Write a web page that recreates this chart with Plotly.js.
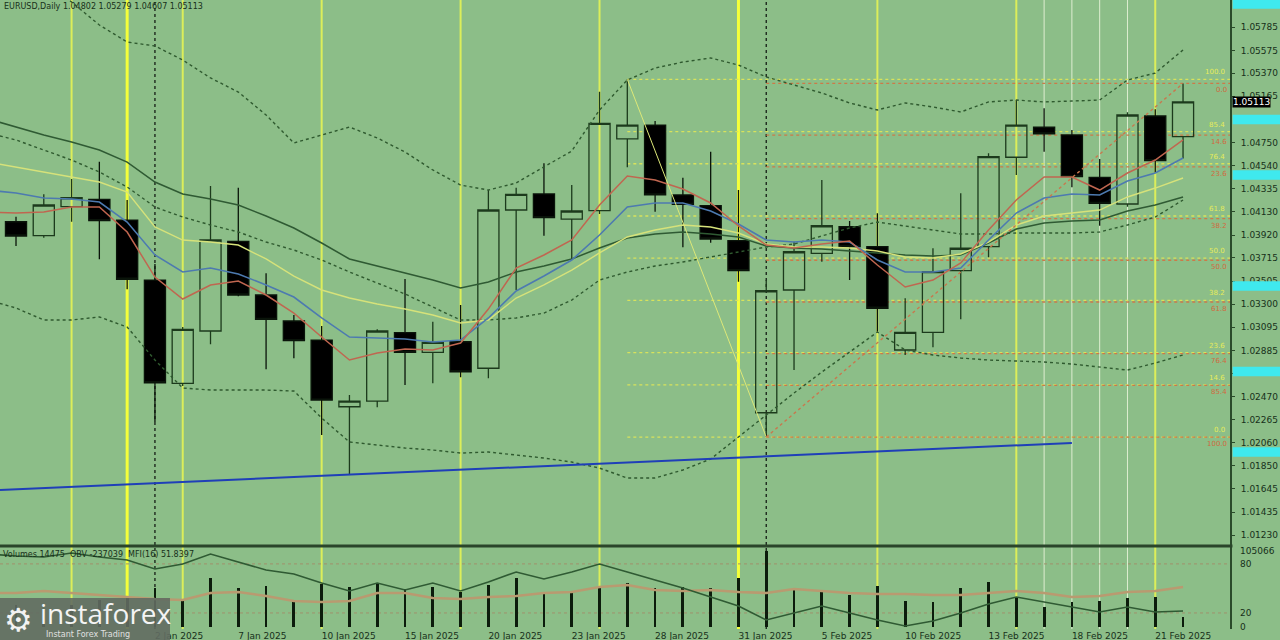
<!DOCTYPE html>
<html><head><meta charset="utf-8">
<script src="https://cdn.plot.ly/plotly-3.0.1.min.js"></script>
<style>html,body{margin:0;padding:0;background:#8cbe88;}#chart{width:1280px;height:640px;}</style>
</head><body><div id="chart"></div>
<script>
// first entry (23 Dec 2024) lies just left of the visible window: only its indicator values show at the edge
const dates = ["23 Dec 2024","24 Dec 2024","26 Dec 2024","27 Dec 2024","30 Dec 2024","31 Dec 2024","2 Jan 2025","3 Jan 2025","6 Jan 2025","7 Jan 2025","8 Jan 2025","9 Jan 2025","10 Jan 2025","13 Jan 2025","14 Jan 2025","15 Jan 2025","16 Jan 2025","17 Jan 2025","20 Jan 2025","21 Jan 2025","22 Jan 2025","23 Jan 2025","24 Jan 2025","27 Jan 2025","28 Jan 2025","29 Jan 2025","30 Jan 2025","31 Jan 2025","3 Feb 2025","4 Feb 2025","5 Feb 2025","6 Feb 2025","7 Feb 2025","10 Feb 2025","11 Feb 2025","12 Feb 2025","13 Feb 2025","14 Feb 2025","17 Feb 2025","18 Feb 2025","19 Feb 2025","20 Feb 2025","21 Feb 2025","24 Feb 2025"];
const open  = [null,1.04039,1.03914,1.04174,1.04240,1.04054,1.03516,1.02590,1.03059,1.03863,1.03382,1.03149,1.02978,1.02380,1.02431,1.03044,1.02868,1.02963,1.02725,1.04144,1.04288,1.04063,1.04138,1.04781,1.04906,1.04279,1.04183,1.03869,1.02326,1.03427,1.03756,1.03994,1.03815,1.02889,1.03047,1.03600,1.03815,1.04617,1.04886,1.04817,1.04437,1.04198,1.04987,1.04802];
const high  = [null,1.04084,1.04285,1.04422,1.04577,1.04234,1.03660,1.03095,1.04359,1.04344,1.03576,1.03203,1.03104,1.02485,1.03074,1.03525,1.03142,1.03292,1.04323,1.04344,1.04563,1.04368,1.05205,1.05316,1.04942,1.04434,1.04667,1.04323,1.03516,1.03860,1.04413,1.04045,1.04114,1.03352,1.03801,1.04294,1.04652,1.05130,1.05056,1.04861,1.04601,1.05020,1.05047,1.05279];
const low   = [null,1.03821,1.03896,1.04039,1.03702,1.03433,1.02243,1.02566,1.02940,1.03370,1.02716,1.02814,1.02127,1.01768,1.02375,1.02575,1.02590,1.02644,1.02635,1.03427,1.03914,1.03696,1.04108,1.04527,1.04129,1.03810,1.03850,1.03501,1.02108,1.02709,1.03680,1.03516,1.03053,1.02844,1.02913,1.03164,1.03720,1.04458,1.04667,1.04348,1.04003,1.04174,1.04479,1.04607];
const close = [null,1.03911,1.04189,1.04254,1.04048,1.03523,1.02595,1.03074,1.03875,1.03382,1.03164,1.02972,1.02440,1.02431,1.03059,1.02868,1.02958,1.02694,1.04144,1.04285,1.04075,1.04135,1.04921,1.04906,1.04279,1.04195,1.03884,1.03600,1.03420,1.03770,1.04003,1.03815,1.03263,1.03047,1.03591,1.03801,1.04622,1.04906,1.04826,1.04443,1.04204,1.04996,1.04586,1.05113];

const maRed    = [1.04126,1.04117,1.04126,1.04171,1.04171,1.03947,1.03543,1.03346,1.03472,1.03507,1.03382,1.03220,1.03005,1.02799,1.02862,1.02898,1.02889,1.02951,1.03256,1.03624,1.03741,1.03875,1.04189,1.04449,1.04413,1.04332,1.04207,1.04001,1.03830,1.03803,1.03839,1.03866,1.03651,1.03454,1.03516,1.03669,1.03965,1.04234,1.04440,1.04440,1.04323,1.04476,1.04592,1.04772];
const maBlue   = [1.04323,1.04296,1.04252,1.04243,1.04216,1.04036,1.03741,1.03588,1.03624,1.03570,1.03472,1.03364,1.03176,1.03005,1.02996,1.02987,1.02960,1.02978,1.03176,1.03418,1.03552,1.03696,1.03920,1.04171,1.04207,1.04207,1.04135,1.04018,1.03875,1.03857,1.03875,1.03857,1.03696,1.03588,1.03588,1.03624,1.03875,1.04117,1.04252,1.04288,1.04279,1.04404,1.04476,1.04610];
const maYellow = [1.04574,1.04530,1.04485,1.04440,1.04395,1.04305,1.03992,1.03875,1.03857,1.03830,1.03705,1.03552,1.03427,1.03355,1.03301,1.03256,1.03203,1.03131,1.03158,1.03355,1.03472,1.03606,1.03759,1.03902,1.03965,1.04010,1.03992,1.03938,1.03839,1.03812,1.03812,1.03803,1.03776,1.03723,1.03714,1.03750,1.03857,1.04010,1.04090,1.04117,1.04144,1.04261,1.04341,1.04431];
const maGreen  = [1.04960,1.04888,1.04817,1.04754,1.04682,1.04574,1.04395,1.04288,1.04243,1.04189,1.04090,1.03983,1.03848,1.03705,1.03642,1.03579,1.03516,1.03445,1.03498,1.03588,1.03642,1.03705,1.03803,1.03893,1.03929,1.03947,1.03929,1.03902,1.03821,1.03803,1.03794,1.03776,1.03759,1.03741,1.03732,1.03741,1.03848,1.03974,1.04027,1.04045,1.04054,1.04135,1.04189,1.04261];
const bandUpper = [1.06565,1.06386,1.06206,1.06009,1.05803,1.05650,1.05615,1.05489,1.05328,1.05202,1.04996,1.04745,1.04817,1.04888,1.04790,1.04664,1.04503,1.04368,1.04323,1.04386,1.04530,1.04673,1.05041,1.05310,1.05417,1.05471,1.05507,1.05444,1.05337,1.05265,1.05193,1.05104,1.05041,1.05104,1.05068,1.05023,1.05113,1.05130,1.05113,1.05121,1.05130,1.05310,1.05372,1.05579];
const bandInner = [1.04834,1.04772,1.04682,1.04592,1.04485,1.04350,1.04171,1.04081,1.04010,1.03947,1.03857,1.03785,1.03696,1.03588,1.03489,1.03391,1.03274,1.03158,1.03158,1.03176,1.03220,1.03337,1.03516,1.03588,1.03642,1.03678,1.03723,1.03767,1.03812,1.03839,1.03911,1.03983,1.04036,1.04001,1.03965,1.03929,1.03929,1.03938,1.03938,1.03938,1.03947,1.04010,1.04081,1.04234];
const bandLower = [1.03337,1.03265,1.03158,1.03158,1.03185,1.03095,1.02799,1.02548,1.02530,1.02530,1.02530,1.02521,1.02279,1.02064,1.02037,1.02010,1.01992,1.01965,1.01974,1.01947,1.01920,1.01884,1.01830,1.01741,1.01741,1.01813,1.01911,1.02109,1.02306,1.02503,1.02691,1.02871,1.03050,1.02889,1.02844,1.02817,1.02799,1.02790,1.02781,1.02763,1.02736,1.02709,1.02772,1.02844];

const volume = [null,30400,23500,30400,37300,40100,53900,37300,67700,53900,56700,35900,59400,55300,60800,52500,55300,48400,58100,67700,48400,48400,56700,60800,53900,55300,53900,67700,105066,53900,48400,44200,56700,35900,34600,53900,62200,41500,27600,34600,35900,40100,41500,14475];
const obv = [193300,178200,170700,200900,170700,148000,80100,117800,193300,132900,72500,42300,-25600,-86000,-25600,-78500,-25600,-86000,-18100,57400,4600,57400,117800,57400,-3000,-63400,-131300,-199300,-305000,-252100,-199300,-252100,-305000,-350300,-312500,-252100,-184200,-131300,-169100,-206800,-244600,-206800,-244600,-237039];
const mfi = [44.4,44.4,46.9,44.4,42.0,39.5,37.1,35.9,44.4,45.7,40.8,34.6,33.4,34.6,44.4,44.4,38.3,37.1,39.5,40.8,44.4,45.7,51.8,54.2,48.1,46.9,48.1,45.7,44.4,49.3,46.9,44.4,43.2,43.2,42.0,42.0,44.4,46.9,44.4,39.5,40.8,45.7,46.9,51.8397];

const tickLabels = ["2 Jan 2025","7 Jan 2025","10 Jan 2025","15 Jan 2025","20 Jan 2025","23 Jan 2025","28 Jan 2025","31 Jan 2025","5 Feb 2025","10 Feb 2025","13 Feb 2025","18 Feb 2025","21 Feb 2025"];
const priceTicks = ["1.05785","1.05575","1.05370","1.05165","1.04750","1.04540","1.04335","1.04130","1.03920","1.03715","1.03505","1.03300","1.03095","1.02885","1.02680","1.02470","1.02265","1.02060","1.01850","1.01645","1.01435","1.01230"];
const fridayLines = ["27 Dec 2024","3 Jan 2025","10 Jan 2025","17 Jan 2025","24 Jan 2025","7 Feb 2025","14 Feb 2025","21 Feb 2025"];
const monthEndLines = ["31 Dec 2024","31 Jan 2025"];
const weekDayLines = ["17 Feb 2025","18 Feb 2025","19 Feb 2025","20 Feb 2025"];
const monthStartLines = ["2 Jan 2025","3 Feb 2025"];
const fibRatios = [0,0.146,0.236,0.382,0.5,0.618,0.764,0.854,1];
const fibYellowFrom = "27 Jan 2025", fibYellowTo = "3 Feb 2025";
const fibRedFrom = "3 Feb 2025", fibRedTo = "24 Feb 2025";
const trendFrom = "24 Dec 2024", trendFromValue = 1.01640;
const trendTo = "18 Feb 2025", trendToValue = 1.02055;
const levelMarks = [1.05991,1.04956,1.04458,1.03463,1.02696,1.01974];
const volMax = 105066;
const mfiLevels = [20,80];
const firstVisible = "24 Dec 2024";

// ---------- build ----------
const BG = '#8cbe88', INK = '#17301a', DARK = '#2a4a2a';
const idx = dates.map((_, i) => i);
const xi = d => dates.indexOf(d);
const XR = [xi(firstVisible) - 0.576, xi(firstVisible) + 43.69];
const last = dates.length - 1;

const traces = [];
const line = (y, color, width, dash) => ({type:'scatter', mode:'lines', x:idx, y:y, xaxis:'x', yaxis:'y', hoverinfo:'skip',
  line:{color:color, width:width, dash:dash||'solid'}});

traces.push(line(bandUpper, '#2f5a2f', 1.4, 'dot'));
traces.push(line(bandInner, '#2f5a2f', 1.4, 'dot'));
traces.push(line(bandLower, '#2f5a2f', 1.4, 'dot'));
traces.push(line(maGreen, '#2f5a33', 1.5));
traces.push(line(maYellow, '#d6e27a', 1.4));
traces.push(line(maBlue, '#4d7ab0', 1.6));
traces.push(line(maRed, '#c06650', 1.5));

// trendline
const slope = (trendToValue - trendFromValue) / (xi(trendTo) - xi(trendFrom));
traces.push({type:'scatter', mode:'lines', x:[XR[0], xi(trendTo)],
  y:[trendFromValue + slope*(XR[0]-xi(trendFrom)), trendToValue], line:{color:'#1f3fb8', width:2}, hoverinfo:'skip'});
// fib diagonals
traces.push({type:'scatter', mode:'lines', x:[xi(fibYellowFrom), xi(fibYellowTo)],
  y:[high[xi(fibYellowFrom)], low[xi(fibYellowTo)]], line:{color:'#dde878', width:1}, hoverinfo:'skip'});
traces.push({type:'scatter', mode:'lines', x:[xi(fibRedFrom), xi(fibRedTo)],
  y:[low[xi(fibRedFrom)], high[xi(fibRedTo)]], line:{color:'#c8784e', width:1.4, dash:'dot'}, hoverinfo:'skip'});

traces.push({type:'candlestick', x:idx, open:open, high:high, low:low, close:close, xaxis:'x', yaxis:'y', hoverinfo:'skip',
  whiskerwidth:0,
  increasing:{line:{color:'#1c3a1c', width:1.3}, fillcolor:'rgba(0,0,0,0)'},
  decreasing:{line:{color:'#0a140a', width:1.3}, fillcolor:'#000000'}});

// lower panel
traces.push({type:'bar', x:idx, y:volume, xaxis:'x', yaxis:'y2', width:0.1, marker:{color:'#0c1c0c', line:{width:0}}, hoverinfo:'skip'});
traces.push({type:'scatter', mode:'lines', x:idx, y:mfi, xaxis:'x', yaxis:'y3', line:{color:'#b99a70', width:2.6}, hoverinfo:'skip'});
traces.push({type:'scatter', mode:'lines', x:idx, y:obv, xaxis:'x', yaxis:'y4', line:{color:'#2f5a33', width:1.6}, hoverinfo:'skip'});

const shapes = [];
const vline = (d, color, width, dash) => shapes.push({type:'line', xref:'x', yref:'paper', x0:xi(d), x1:xi(d), y0:0, y1:1,
  line:{color:color, width:width, dash:dash||'solid'}, layer:'below'});
fridayLines.filter(d => monthEndLines.indexOf(d) < 0).forEach(d => vline(d, '#dcee5a', 2));
monthEndLines.forEach(d => vline(d, '#f4ff3a', 3));
weekDayLines.forEach(d => vline(d, 'rgba(236,246,222,0.85)', 1));
monthStartLines.forEach(d => vline(d, '#151d15', 1.3, 'dot'));

// fib levels
const fibY0 = high[xi(fibYellowFrom)], fibY1 = low[xi(fibYellowTo)];
const fibR0 = low[xi(fibRedFrom)], fibR1 = high[xi(fibRedTo)];
const annotations = [];
fibRatios.forEach(r => {
  const py = fibY1 + (fibY0 - fibY1) * r;   // 100 at the high, 0 at the low
  shapes.push({type:'line', xref:'x', yref:'y', x0:xi(fibYellowFrom), x1:XR[1], y0:py, y1:py,
    line:{color:'#d8e25c', width:1.3, dash:'dot'}, layer:'below'});
  const pr = fibR1 + (fibR0 - fibR1) * r;   // 100 at the low, 0 at the high
  shapes.push({type:'line', xref:'x', yref:'y', x0:xi(fibRedFrom), x1:XR[1], y0:pr, y1:pr,
    line:{color:'#cc7a48', width:1.3, dash:'dot'}, layer:'below'});
  annotations.push({xref:'paper', yref:'y', x:1, y:py, xanchor:'right', yanchor:'bottom', xshift:-3, yshift:1, showarrow:false,
    text:(r*100).toFixed(1), font:{family:'DejaVu Sans', size:7, color:'#e6ec5a'}});
  annotations.push({xref:'paper', yref:'y', x:1, y:pr, xanchor:'right', yanchor:'top', xshift:-1, yshift:-1, showarrow:false,
    text:(r*100).toFixed(1), font:{family:'DejaVu Sans', size:7, color:'#d06a40'}});
});

// mfi levels
mfiLevels.forEach(v => shapes.push({type:'line', xref:'paper', yref:'y3', x0:0, x1:1, y0:v, y1:v,
  line:{color:'#a0926c', width:1, dash:'dot'}, layer:'below'}));

// panel separator
shapes.push({type:'line', xref:'paper', yref:'paper', x0:0, x1:1.002, y0:0.1319, y1:0.1319, line:{color:'#2a452a', width:3}, layer:'above'});

// cyan level marks on the price scale
levelMarks.forEach(v => shapes.push({type:'rect', xref:'paper', yref:'y', x0:1.0022, x1:1.05, y0:v-0.00042, y1:v+0.00042,
  fillcolor:'#3fe9ee', line:{width:0}, layer:'above'}));

// logo box
shapes.push({type:'rect', xref:'paper', yref:'paper', x0:0, x1:0.1382, y0:-0.02, y1:0.0493,
  fillcolor:'rgba(98,108,98,0.9)', line:{width:0}, layer:'above'});

// texts
annotations.push({xref:'paper', yref:'paper', x:0.002, y:1, xanchor:'left', yanchor:'top', yshift:0, showarrow:false,
  text:'EURUSD,Daily ' + [open[last],high[last],low[last],close[last]].map(v=>v.toFixed(5)).join(' '),
  font:{family:'DejaVu Sans', size:8, color:INK}});
annotations.push({xref:'paper', yref:'paper', x:0.001, y:0.1304, xanchor:'left', yanchor:'top', yshift:-1, showarrow:false,
  text:'Volumes ' + volume[last] + '  OBV ' + obv[last] + '  MFI(16) ' + mfi[last].toFixed(4),
  font:{family:'DejaVu Sans', size:8, color:INK}});
annotations.push({xref:'paper', yref:'y', x:1, y:close[last], xanchor:'left', yanchor:'middle', xshift:2, showarrow:false,
  text:close[last].toFixed(5), bgcolor:'#000000', borderpad:0, font:{family:'DejaVu Sans', size:9, color:'#ffffff'}});
[[volMax,'y2'],[0,'y2']].forEach(p => annotations.push({xref:'paper', yref:p[1], x:1, y:p[0], xanchor:'left', yanchor:'middle', xshift:8,
  showarrow:false, text:String(p[0]), font:{family:'DejaVu Sans', size:9, color:INK}}));
mfiLevels.forEach(v => annotations.push({xref:'paper', yref:'y3', x:1, y:v, xanchor:'left', yanchor:'middle', xshift:8,
  showarrow:false, text:String(v), font:{family:'DejaVu Sans', size:9, color:INK}}));
// logo texts
annotations.push({xref:'paper', yref:'paper', x:0.002, y:0.014, xanchor:'left', yanchor:'middle', showarrow:false,
  text:'⚙', font:{family:'DejaVu Sans', size:32, color:'#f2f2f2'}});
annotations.push({xref:'paper', yref:'paper', x:0.031, y:0.026, xanchor:'left', yanchor:'middle', showarrow:false,
  text:'instaforex', font:{family:'Open Sans', size:28, color:'#f4f4f4'}});
annotations.push({xref:'paper', yref:'paper', x:0.036, y:-0.008, xanchor:'left', yanchor:'middle', showarrow:false,
  text:'Instant Forex Trading', font:{family:'DejaVu Sans', size:8, color:'#e0e0e0'}});

const layout = {
  width:1280, height:640, margin:{l:0, r:50, t:0, b:11},
  paper_bgcolor:BG, plot_bgcolor:BG, showlegend:false, boxgap:0.24, boxgroupgap:0, bargap:0,
  xaxis:{type:'linear', range:XR, anchor:'y2', showgrid:false, zeroline:false, showline:false,
    tickmode:'array', tickvals:tickLabels.map(xi), ticktext:tickLabels, ticks:'', ticklabelposition:'outside right',
    tickfont:{family:'DejaVu Sans', size:9, color:INK}, rangeslider:{visible:false}, fixedrange:true},
  yaxis:{domain:[0.1335,1], range:[1.011401,1.060271], side:'right', showgrid:false, zeroline:false,
    tickmode:'array', tickvals:priceTicks.map(Number), ticktext:priceTicks, ticks:'outside', ticklen:3, tickcolor:DARK,
    ticklabelstandoff:4, showline:true, linecolor:DARK, linewidth:2, tickfont:{family:'DejaVu Sans', size:9, color:INK}},
  yaxis2:{domain:[0,0.1304], range:[-2765,110592], side:'right', showgrid:false, zeroline:false, showticklabels:false,
    ticks:'', showline:true, linecolor:DARK, linewidth:2},
  yaxis3:{overlaying:'y2', range:[0.37,100.7], visible:false},
  yaxis4:{overlaying:'y2', range:[-372939,246161], visible:false},
  shapes:shapes, annotations:annotations
};
Plotly.newPlot('chart', traces, layout, {staticPlot:true, displayModeBar:false});
</script></body></html>
